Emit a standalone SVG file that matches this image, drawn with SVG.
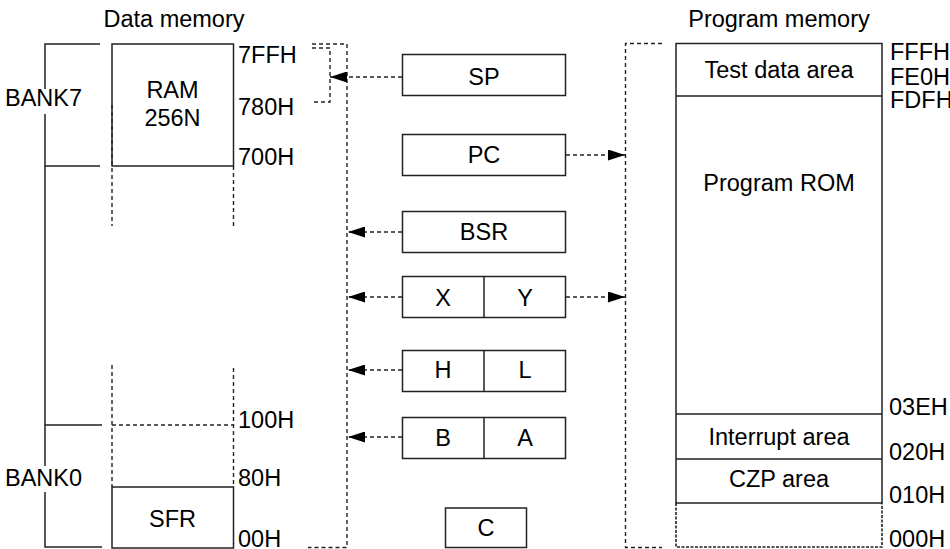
<svg xmlns="http://www.w3.org/2000/svg" width="950" height="549" viewBox="0 0 950 549">
<style>
text{font-family:"Liberation Sans",Arial,sans-serif;font-size:23.5px;fill:#000}
.m{text-anchor:middle}
.box{fill:#fff;stroke:#222;stroke-width:1.5}
.sl{fill:none;stroke:#222;stroke-width:1.5}
.dl{fill:none;stroke:#222;stroke-width:1.4;stroke-dasharray:4 3}
.dd{fill:none;stroke:#222;stroke-width:1.6;stroke-dasharray:3 1.5}
</style>
<defs>
<marker id="ah" markerUnits="userSpaceOnUse" markerWidth="17" markerHeight="11" refX="17" refY="5.5" orient="auto">
<path d="M0,0 L17,5.5 L0,11 Z" fill="#000" stroke="none"/>
</marker>
</defs>
<rect width="950" height="549" fill="#fff"/>

<g id="titles">
<text class="m" x="174" y="27">Data memory</text>
<text class="m" x="779" y="27">Program memory</text>
</g>

<g id="bank7">
<path class="sl" d="M100,44 H45 V89 M45,114 V166 H100"/>
<text x="5" y="106">BANK7</text>
</g>
<g id="bankline">
<path class="sl" d="M45,166 V425"/>
</g>
<g id="bank0">
<path class="sl" d="M102,425 H45 V466 M45,492 V547 H102"/>
<text x="5" y="486">BANK0</text>
</g>

<g id="ram">
<rect class="box" x="112" y="44" width="121.5" height="122"/>
<text class="m" x="172.5" y="98">RAM</text>
<text class="m" x="172.5" y="126">256N</text>
</g>
<g id="ram-gap">
<path class="dl" d="M112,105 V226 M233.5,166 V226"/>
<path class="dl" d="M112,365 V487 M233.5,368 V487 M112,425 H233.5"/>
</g>
<g id="sfr">
<rect class="box" x="112" y="487" width="121.5" height="61"/>
<text class="m" x="172.5" y="527">SFR</text>
</g>

<g id="data-addr">
<text x="238" y="63">7FFH</text>
<text x="238" y="115">780H</text>
<text x="238" y="165">700H</text>
<text x="238" y="428">100H</text>
<text x="238" y="486">80H</text>
<text x="238" y="547">00H</text>
</g>

<g id="sp"><rect class="box" x="402.5" y="54.5" width="163" height="41"/><text class="m" x="484" y="85">SP</text></g>
<g id="pc"><rect class="box" x="402.5" y="134.5" width="163" height="41"/><text class="m" x="484" y="163">PC</text></g>
<g id="bsr"><rect class="box" x="402.5" y="211.5" width="163" height="41"/><text class="m" x="484" y="240">BSR</text></g>
<g id="xy"><rect class="box" x="402.5" y="276.5" width="163" height="41"/><path class="sl" d="M484,276.5 V317.5"/><text class="m" x="443" y="306">X</text><text class="m" x="525" y="306">Y</text></g>
<g id="hl"><rect class="box" x="402.5" y="350.5" width="163" height="41"/><path class="sl" d="M484,350.5 V391.5"/><text class="m" x="443" y="378">H</text><text class="m" x="525" y="378">L</text></g>
<g id="ba"><rect class="box" x="402.5" y="417.5" width="163" height="41"/><path class="sl" d="M484,417.5 V458.5"/><text class="m" x="443" y="446">B</text><text class="m" x="525" y="446">A</text></g>
<g id="c"><rect class="box" x="445.5" y="508" width="81" height="39.5"/><text class="m" x="486" y="536">C</text></g>

<g id="prog">
<rect class="box" x="676" y="43.5" width="206" height="459.5"/>
<path class="sl" d="M676,96 H882 M676,414 H882 M676,459 H882"/>
<path class="dd" d="M676,503 V547 H882 V503"/>
<text class="m" x="779" y="78">Test data area</text>
<text class="m" x="779" y="191">Program ROM</text>
<text class="m" x="779" y="445">Interrupt area</text>
<text class="m" x="779" y="487">CZP area</text>
</g>
<g id="prog-addr">
<text x="890" y="60">FFFH</text>
<text x="890" y="85">FE0H</text>
<text x="890" y="108">FDFH</text>
<text x="889" y="415">03EH</text>
<text x="889" y="460">020H</text>
<text x="889" y="503">010H</text>
<text x="889" y="547">000H</text>
</g>

<g id="connectors">
<path class="dl" d="M312,44 H347 V547.5 H308"/>
<path class="dl" d="M312,48 H330 V102 H312"/>
<path class="dl" d="M662,43.5 H625.5 V547.5 H662"/>
<path class="dl" d="M402,77 H330" marker-end="url(#ah)"/>
<path class="dl" d="M566,155 H625" marker-end="url(#ah)"/>
<path class="dl" d="M402,232 H348" marker-end="url(#ah)"/>
<path class="dl" d="M402,297 H348" marker-end="url(#ah)"/>
<path class="dl" d="M566,297 H625" marker-end="url(#ah)"/>
<path class="dl" d="M402,370 H348" marker-end="url(#ah)"/>
<path class="dl" d="M402,437 H348" marker-end="url(#ah)"/>
</g>
</svg>
